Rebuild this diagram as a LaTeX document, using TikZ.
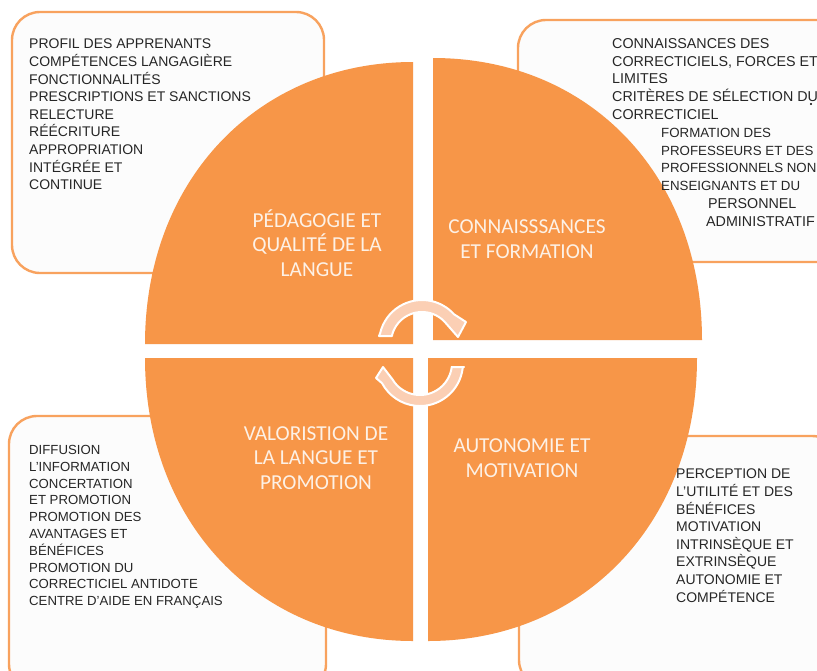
\documentclass[tikz,border=0pt]{standalone}
\usepackage{fontspec}
\setmainfont{Liberation Sans}
\newfontfamily\titlefont{Carlito}
\definecolor{disc}{HTML}{F79648}
\definecolor{edge}{HTML}{F8A25E}
\definecolor{paper}{HTML}{FCFCFC}
\definecolor{peach}{HTML}{FBCFB4}
\definecolor{titletext}{HTML}{FDF1E6}
\tikzset{
  panel/.style={draw=edge,line width=2.4pt,fill=paper,rounded corners=28pt},
  bodytext/.style={anchor=north west,align=left,inner sep=0pt,text=black!85,font=\fontsize{14}{17.6}\selectfont},
  headtext/.style={align=center,inner sep=0pt,text=titletext,font=\titlefont\fontsize{21.3}{24.5}\selectfont},
  cyclearrow/.style={fill=peach,draw=white,line width=2pt,line join=round},
  quadrant/.style={fill=disc}
}
\begin{document}
\begin{tikzpicture}[x=1pt,y=-1pt]
\clip (0,0) rectangle (817,670);
\fill[white] (0,0) rectangle (817,670);
% panels
\path[panel] (12,12) rectangle (324,273);
\path[panel] (518,20) rectangle (846,262);
\path[panel] (9,416) rectangle (326,692);
\path[panel] (519,436) rectangle (840,688);
% disc quadrants
\path[quadrant] (413,344) -- (145,344) .. controls (145,180) and (258,62) .. (413,62) -- cycle;
\path[quadrant] (433,340) -- (433,58) .. controls (590,58) and (702,176) .. (702,340) -- cycle;
\path[quadrant] (413,358) -- (145,358) .. controls (145,522) and (258,641) .. (413,641) -- cycle;
\path[quadrant] (428,358) -- (697,358) .. controls (697,522) and (584,641) .. (428,641) -- cycle;
% cycle arrows
\coordinate (ta) at (379,336);
\coordinate (tb) at ([shift={(40:31pt)}]422,343);
\coordinate (tc) at (392,336);
\coordinate (ba) at (464,367);
\coordinate (bb) at ([shift={(211:32pt)}]420,363);
\coordinate (bc) at (452,367);
\path[cyclearrow] (ta) -- ([shift={(167:43pt)}]422,343) arc[start angle=167,end angle=42,radius=43pt]
  -- (466,322) -- (458,337) -- (tb) arc[start angle=40,end angle=165,radius=31pt] -- (tc) -- cycle;
\path[cyclearrow] (ba) -- ([shift={(-6:43pt)}]420,363) arc[start angle=-6,end angle=-152,radius=43pt]
  -- (376,378) -- (383,367) -- (bb) arc[start angle=211,end angle=353,radius=32pt] -- (bc) -- cycle;
% titles
\node[headtext] (t1) at (317,243) {PÉDAGOGIE ET\\QUALITÉ DE LA\\LANGUE};
\node[headtext] (t2) at (527,239) {CONNAISSSANCES\\ET FORMATION};
\node[headtext] (t3) at (316,458) {VALORISTION DE\\LA LANGUE ET\\PROMOTION};
\node[headtext] (t4) at (522,458) {AUTONOMIE ET\\MOTIVATION};
% panel text
\node[bodytext] (b1) at (29,39) {PROFIL DES APPRENANTS\\COMPÉTENCES LANGAGIÈRE\\FONCTIONNALITÉS\\PRESCRIPTIONS ET SANCTIONS\\RELECTURE\\RÉÉCRITURE\\APPROPRIATION\\INTÉGRÉE ET\\CONTINUE};
\node[bodytext,font=\fontsize{14.3}{17.9}\selectfont] (b2) at (612,38) {CONNAISSANCES DES\\CORRECTICIELS, FORCES ET\\LIMITES\\CRITÈRES DE SÉLECTION DU\\CORRECTICIEL};
\node[bodytext,font=\fontsize{13.3}{17.7}\selectfont] (b2a) at (661,128) {FORMATION DES\\PROFESSEURS ET DES\\PROFESSIONNELS NON\\ENSEIGNANTS ET DU};
\node[bodytext,font=\fontsize{14.3}{18.4}\selectfont] (b2b) at (706,198) {\hspace*{2pt}PERSONNEL\\ADMINISTRATIF};
\node[circle,fill=black,inner sep=0pt,minimum size=2.4pt] (d) at (811,104) {};
\node[bodytext,font=\fontsize{13.2}{16.8}\selectfont] (b3) at (29,445) {DIFFUSION\\L'INFORMATION\\CONCERTATION\\ET PROMOTION\\PROMOTION DES\\AVANTAGES ET\\BÉNÉFICES\\PROMOTION DU\\CORRECTICIEL ANTIDOTE\\CENTRE D'AIDE EN FRANÇAIS};
\node[bodytext,font=\fontsize{14}{17.6}\selectfont] (b4) at (676,469) {PERCEPTION DE\\L'UTILITÉ ET DES\\BÉNÉFICES\\MOTIVATION\\INTRINSÈQUE ET\\EXTRINSÈQUE\\AUTONOMIE ET\\COMPÉTENCE};
\end{tikzpicture}
\end{document}
